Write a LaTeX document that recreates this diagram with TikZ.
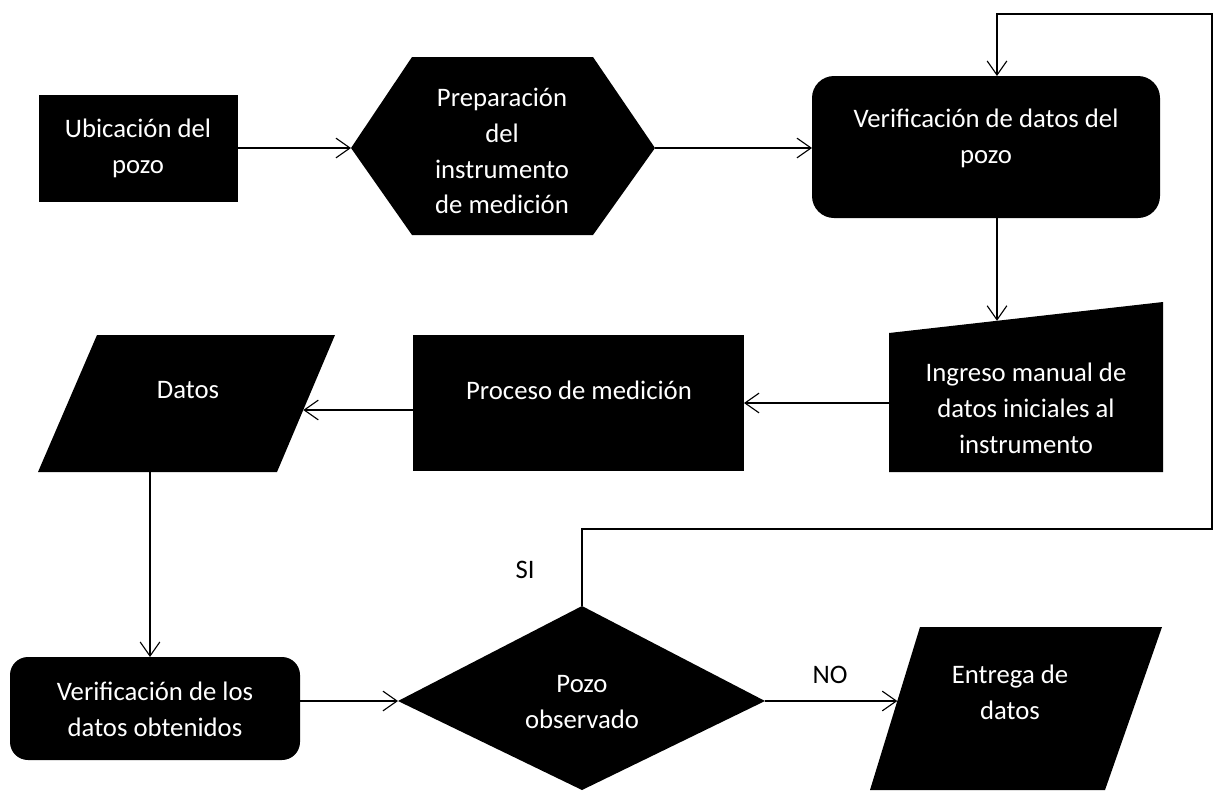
\documentclass[tikz,border=0pt]{standalone}
\usepackage{fontspec}
\setmainfont{Carlito}
\usepackage{tikz}
\usetikzlibrary{arrows.meta, calc, intersections}
\tikzset{>={Straight Barb[length=10pt,width=14pt]}}
\def\rescale{0.025}
\def\biground{0.55cm}
\def\smallround{0.45cm}

\begin{document}
\begin{tikzpicture}[x=\rescale cm, y=-\rescale cm,
    label_in/.style={text=white, align=center, font=\fontsize{19}{25.5}\selectfont},
    label_out/.style={text=black, font=\fontsize{19}{25.5}\selectfont},
    flow/.style={->, line width=0.8pt}]

\useasboundingbox (0,0) rectangle (1216,791);

% Top row
\coordinate[](ubic_top_left) at (39, 95);
\coordinate[](ubic_bottom_right) at (238, 202);
\coordinate[](ubic_right) at (238, 148);

\coordinate[](prep_left) at (351, 148);
\coordinate[](prep_top_left) at (412, 57);
\coordinate[](prep_top_right) at (593, 57);
\coordinate[](prep_right) at (655, 148);
\coordinate[](prep_bottom_right) at (593, 235);
\coordinate[](prep_bottom_left) at (412, 235);

\coordinate[](verif_top_left) at (812, 76);
\coordinate[](verif_bottom_right) at (1160, 218);
\coordinate[](verif_left) at (812, 148);
\coordinate[](verif_top) at (997, 76);
\coordinate[](verif_bottom) at (997, 218);

% Middle row
\coordinate[](ingr_top_left) at (889, 333);
\coordinate[](ingr_top_right) at (1163, 302);
\coordinate[](ingr_bottom_right) at (1163, 472);
\coordinate[](ingr_bottom_left) at (889, 472);
\coordinate[](ingr_left) at (889, 403);

\coordinate[](proc_top_left) at (413, 335);
\coordinate[](proc_bottom_right) at (744, 471);
\coordinate[](proc_right) at (744, 403);
\coordinate[](proc_left) at (413, 410);

\coordinate[](dat_top_left) at (97, 335);
\coordinate[](dat_top_right) at (335, 335);
\coordinate[](dat_bottom_right) at (277, 472);
\coordinate[](dat_bottom_left) at (38, 472);
\coordinate[](dat_bottom) at (150, 472);

% Bottom row
\coordinate[](vld_top_left) at (10, 657);
\coordinate[](vld_bottom_right) at (300, 760);
\coordinate[](vld_top) at (150, 657);
\coordinate[](vld_right) at (300, 701);

\coordinate[](obs_top) at (582, 606);
\coordinate[](obs_left) at (398, 701);
\coordinate[](obs_right) at (765, 701);
\coordinate[](obs_bottom) at (582, 790);

\coordinate[](ent_top_left) at (920, 627);
\coordinate[](ent_top_right) at (1162, 627);
\coordinate[](ent_bottom_right) at (1105, 790);
\coordinate[](ent_bottom_left) at (870, 790);

% Return loop
\coordinate[](loop_bottom_left) at (582, 529);
\coordinate[](loop_bottom_right) at (1212, 529);
\coordinate[](loop_top_right) at (1212, 14);
\coordinate[](loop_top_left) at (997, 14);

% Shapes
\fill[black] (ubic_top_left) rectangle (ubic_bottom_right);
\fill[black] (prep_left) -- (prep_top_left) -- (prep_top_right) -- (prep_right) -- (prep_bottom_right) -- (prep_bottom_left) -- cycle;
\fill[black, rounded corners=\biground] (verif_top_left) rectangle (verif_bottom_right);

\fill[black] (ingr_top_left) -- (ingr_top_right) -- (ingr_bottom_right) -- (ingr_bottom_left) -- cycle;
\fill[black] (proc_top_left) rectangle (proc_bottom_right);
\fill[black] (dat_top_left) -- (dat_top_right) -- (dat_bottom_right) -- (dat_bottom_left) -- cycle;

\fill[black, rounded corners=\smallround] (vld_top_left) rectangle (vld_bottom_right);
\fill[black] (obs_top) -- (obs_right) -- (obs_bottom) -- (obs_left) -- cycle;
\fill[black] (ent_top_left) -- (ent_top_right) -- (ent_bottom_right) -- (ent_bottom_left) -- cycle;

% Where the arrows meet the slanted edges
\path[name path=ingr_top_edge] (ingr_top_left) -- (ingr_top_right);
\path[name path=verif_drop] (verif_bottom) -- ++(0, 150);
\path[name intersections={of=verif_drop and ingr_top_edge, by=ingr_top}];

\path[name path=dat_right_edge] (dat_top_right) -- (dat_bottom_right);
\path[name path=proc_pull] (proc_left) -- ++(-200, 0);
\path[name intersections={of=proc_pull and dat_right_edge, by=dat_right}];

\path[name path=ent_left_edge] (ent_top_left) -- (ent_bottom_left);
\path[name path=obs_push] (obs_right) -- ++(200, 0);
\path[name intersections={of=obs_push and ent_left_edge, by=ent_left}];

% Texts
\node[label_in] (ubic_label) at (138, 148) {Ubicación del\\pozo};
\node[label_in] (prep_label) at (502, 151) {Preparación\\del\\instrumento\\de medición};
\node[label_in] (verif_label) at (986, 138) {Verificación de datos del\\pozo};
\node[label_in] (ingr_label) at (1026, 408) {Ingreso manual de\\datos iniciales al\\instrumento};
\node[label_in] (proc_label) at (579, 390) {Proceso de medición};
\node[label_in] (dat_label) at (188, 390) {Datos};
\node[label_in] (vld_label) at (155, 709) {Verificación de los\\datos obtenidos};
\node[label_in] (obs_label) at (582, 702) {Pozo\\observado};
\node[label_in] (ent_label) at (1010, 692) {Entrega de\\datos};
\node[label_out] (si_label) at (525, 570) {SI};
\node[label_out] (no_label) at (830, 675) {NO};

% Connectors
\draw[flow] (ubic_right) -- (prep_left);
\draw[flow] (prep_right) -- (verif_left);
\draw[flow] (verif_bottom) -- (ingr_top);
\draw[flow] (ingr_left) -- (proc_right);
\draw[flow] (proc_left) -- (dat_right);
\draw[flow] (dat_bottom) -- (vld_top);
\draw[flow] (vld_right) -- (obs_left);
\draw[flow] (obs_right) -- (ent_left);
\draw[flow] (obs_top) -- (loop_bottom_left) -- (loop_bottom_right) -- (loop_top_right) -- (loop_top_left) -- (verif_top);

\end{tikzpicture}
\end{document}
